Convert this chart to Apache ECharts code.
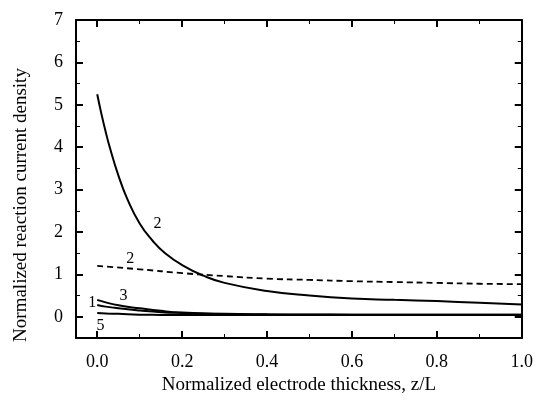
<!DOCTYPE html>
<html>
<head>
<meta charset="utf-8">
<script src="https://cdn.jsdelivr.net/npm/echarts@6/dist/echarts.min.js"></script>
<style>
  html, body { margin: 0; padding: 0; background: #fff; }
  #chart { width: 536px; height: 403px; }
</style>
</head>
<body>
<div id="chart"></div>
<script>
// Normalized position through the electrode, z/L
const zFine = [0, 0.01, 0.02, 0.03, 0.05, 0.07, 0.1, 0.13, 0.16, 0.2, 0.25, 0.3, 0.4, 0.5, 0.6, 0.7, 0.8, 0.9, 1.0];
const zCoarse = [0, 0.02, 0.05, 0.1, 0.15, 0.2, 0.3, 0.4, 0.5, 0.6, 0.7, 0.8, 0.9, 1.0];
const zDashed = [0, 0.1, 0.2, 0.3, 0.4, 0.5, 0.6, 0.7, 0.8, 0.9, 1.0];

// Reaction current density profiles
const curve2Solid = [5.25, 4.78, 4.36, 3.98, 3.33, 2.8, 2.2, 1.8, 1.5, 1.22, 0.97, 0.8, 0.61, 0.5, 0.43, 0.4, 0.37, 0.33, 0.29];
const curve2Dashed = [1.2, 1.12, 1.03, 0.96, 0.9, 0.87, 0.84, 0.82, 0.8, 0.78, 0.77];
const curve3 = [0.4, 0.34, 0.27, 0.2, 0.14, 0.1, 0.07, 0.06, 0.055, 0.05, 0.05, 0.05, 0.05, 0.05];
const curve1 = [0.28, 0.24, 0.2, 0.15, 0.11, 0.09, 0.065, 0.055, 0.05, 0.05, 0.05, 0.05, 0.05, 0.05];
const curve5 = [0.09, 0.08, 0.07, 0.05, 0.045, 0.04, 0.04, 0.04, 0.04, 0.04, 0.04, 0.04, 0.04, 0.04];

// Tick values
const xMajor = [0, 0.2, 0.4, 0.6, 0.8, 1.0];
const xMinor = [0.1, 0.3, 0.5, 0.7, 0.9];
const yMajor = [0, 1, 2, 3, 4, 5, 6, 7];
const yMinor = [-0.5, 0.5, 1.5, 2.5, 3.5, 4.5, 5.5, 6.5];

// Axis titles
const xTitle = 'Normalized electrode thickness, z/L';
const yTitle = 'Normalized reaction current density';

// Curve identifiers and where they sit (data coordinates)
const curveTags = [
  { text: '2', at: [0.142, 2.2] },
  { text: '2', at: [0.078, 1.36] },
  { text: '3', at: [0.062, 0.49] },
  { text: '1', at: [-0.012, 0.32] },
  { text: '5', at: [0.008, -0.22] }
];

const FONT = '"Liberation Serif", "DejaVu Serif", serif';
const X_MIN = -0.05, X_MAX = 1.0, Y_MIN = -0.5, Y_MAX = 7;

const pair = (xs, ys) => xs.map((x, i) => [x, ys[i]]);

function xAx(opts) {
  return Object.assign({
    type: 'value', min: X_MIN, max: X_MAX, gridIndex: 0,
    splitLine: { show: false },
    axisLine: { show: false, onZero: false },
    axisLabel: { show: false },
    axisTick: { show: false }
  }, opts);
}
function yAx(opts) {
  return Object.assign({
    type: 'value', min: Y_MIN, max: Y_MAX, gridIndex: 0,
    splitLine: { show: false },
    axisLine: { show: false, onZero: false },
    axisLabel: { show: false },
    axisTick: { show: false }
  }, opts);
}

const frameLine = { show: true, onZero: false, lineStyle: { color: '#000', width: 2 } };
const majorTick = vals => ({ show: true, inside: true, length: 7, customValues: vals, lineStyle: { color: '#000', width: 2 } });
const minorTick = vals => ({ show: true, inside: true, length: 4, customValues: vals, lineStyle: { color: '#000', width: 1 } });

const curve = (name, xs, ys, lineStyle) => ({
  name, type: 'line', data: pair(xs, ys), smooth: 0.5, symbol: 'none',
  lineStyle: Object.assign({ color: '#000', width: 2 }, lineStyle)
});

const chart = echarts.init(document.getElementById('chart'), null, { renderer: 'canvas' });

chart.setOption({
  backgroundColor: '#fff',
  animation: false,
  grid: { left: 76, right: 11, top: 20, bottom: 65, containLabel: false },
  xAxis: [
    xAx({
      position: 'bottom',
      axisLine: frameLine,
      axisTick: majorTick(xMajor),
      axisLabel: {
        show: true, customValues: xMajor, margin: 15, color: '#000',
        fontFamily: FONT, fontSize: 18,
        formatter: v => v.toFixed(1)
      }
    }),
    xAx({ position: 'bottom', axisTick: minorTick(xMinor) }),
    xAx({ position: 'top', axisLine: frameLine, axisTick: majorTick(xMajor) }),
    xAx({ position: 'top', axisTick: minorTick(xMinor) })
  ],
  yAxis: [
    yAx({
      position: 'left',
      axisLine: frameLine,
      axisTick: majorTick(yMajor),
      axisLabel: {
        show: true, customValues: yMajor, margin: 13, color: '#000',
        fontFamily: FONT, fontSize: 18
      }
    }),
    yAx({ position: 'left', axisTick: minorTick(yMinor) }),
    yAx({ position: 'right', axisLine: frameLine, axisTick: majorTick(yMajor) }),
    yAx({ position: 'right', axisTick: minorTick(yMinor) })
  ],
  series: [
    curve('2', zFine, curve2Solid),
    curve('2 (dashed)', zDashed, curve2Dashed, { width: 1.8, type: [6, 4] }),
    curve('3', zCoarse, curve3),
    curve('1', zCoarse, curve1),
    curve('5', zCoarse, curve5)
  ]
});

// Curve numbers and axis titles
const tagGraphics = curveTags.map(t => {
  const p = chart.convertToPixel({ xAxisIndex: 0, yAxisIndex: 0 }, t.at);
  return {
    type: 'text', x: p[0], y: p[1],
    style: { text: t.text, fill: '#000', font: '16px ' + FONT, align: 'center', verticalAlign: 'middle' }
  };
});
const plotRight = chart.convertToPixel({ xAxisIndex: 0 }, X_MAX);
const plotLeft = chart.convertToPixel({ xAxisIndex: 0 }, X_MIN);
chart.setOption({
  graphic: tagGraphics.concat([
    {
      type: 'text', x: (plotLeft + plotRight) / 2, y: 385,
      style: { text: xTitle, fill: '#000', font: '19px ' + FONT, align: 'center', verticalAlign: 'middle' }
    },
    {
      type: 'text', x: 21, y: 205, rotation: Math.PI / 2,
      style: { text: yTitle, fill: '#000', font: '19px ' + FONT, align: 'center', verticalAlign: 'middle' }
    }
  ])
});
</script>
</body>
</html>
